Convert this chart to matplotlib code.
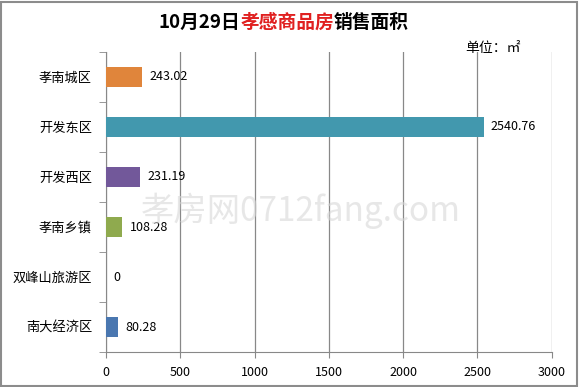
import numpy as np
import matplotlib.pyplot as plt
from matplotlib.offsetbox import TextArea, HPacker, AnchoredOffsetbox
from matplotlib.patches import Rectangle
plt.switch_backend('Agg')

plt.rcParams['font.family'] = ['Noto Sans CJK SC', 'DejaVu Sans']

categories = ['孝南城区', '开发东区', '开发西区', '孝南乡镇', '双峰山旅游区', '南大经济区']
areas = [243.02, 2540.76, 231.19, 108.28, 0, 80.28]
bar_colors = ['#E0853B', '#4298AE', '#72589A', '#8FAA4E', '#8FAA4E', '#4A77B0']
value_labels = ['243.02', '2540.76', '231.19', '108.28', '0', '80.28']

fig = plt.figure(figsize=(5.79, 3.87), dpi=100)
ax = fig.add_axes([0.183, 0.090, 0.770, 0.776])

y = np.arange(len(categories))[::-1]
ax.barh(y, areas, height=0.4, color=bar_colors, zorder=3)
for yi, v, lab in zip(y, areas, value_labels):
    ax.text(v + 50, yi, lab, va='center', ha='left', fontsize=9, zorder=4)

ax.set_xlim(0, 3000)
ax.set_ylim(-0.5, len(categories) - 0.5)
ax.set_xticks(np.arange(0, 3001, 500))
ax.tick_params(axis='x', labelsize=9, length=4, color='#888888', pad=6)
ax.set_yticks(y)
ax.set_yticklabels(categories, fontsize=9.5)
ax.set_yticks(np.arange(-0.5, len(categories), 1), minor=True)
ax.tick_params(axis='y', which='major', length=0, pad=10)
ax.tick_params(axis='y', which='minor', length=5, color='#888888')
ax.grid(axis='x', color='#888888', linewidth=0.9, zorder=0)
for s in ['top', 'right']:
    ax.spines[s].set_visible(False)
for s in ['left', 'bottom']:
    ax.spines[s].set_color('#888888')

# watermark
fig.text(0.52, 0.455, '孝房网0712fang.com', fontsize=24, color='#d8d8d8',
         ha='center', va='center', zorder=0, alpha=0.6)

# title with mixed colours
parts = [TextArea('10月29日', textprops=dict(color='black', fontsize=13.5, fontweight='bold')),
         TextArea('孝感商品房', textprops=dict(color='#E02020', fontsize=13.5, fontweight='bold')),
         TextArea('销售面积', textprops=dict(color='black', fontsize=13.5, fontweight='bold'))]
box = HPacker(children=parts, align='baseline', pad=0, sep=0)
anch = AnchoredOffsetbox(loc='center', child=box, pad=0, frameon=False,
                         bbox_to_anchor=(0.49, 0.943), bbox_transform=fig.transFigure)
fig.add_artist(anch)

fig.text(0.803, 0.876, '单位：㎡', fontsize=10, ha='left', va='center')

fig.add_artist(Rectangle((0.002, 0.003), 0.995, 0.993, transform=fig.transFigure,
                         fill=False, edgecolor='#8c8c8c', linewidth=1.5))

fig.savefig('out.png', dpi=100)
plt.close(fig)
